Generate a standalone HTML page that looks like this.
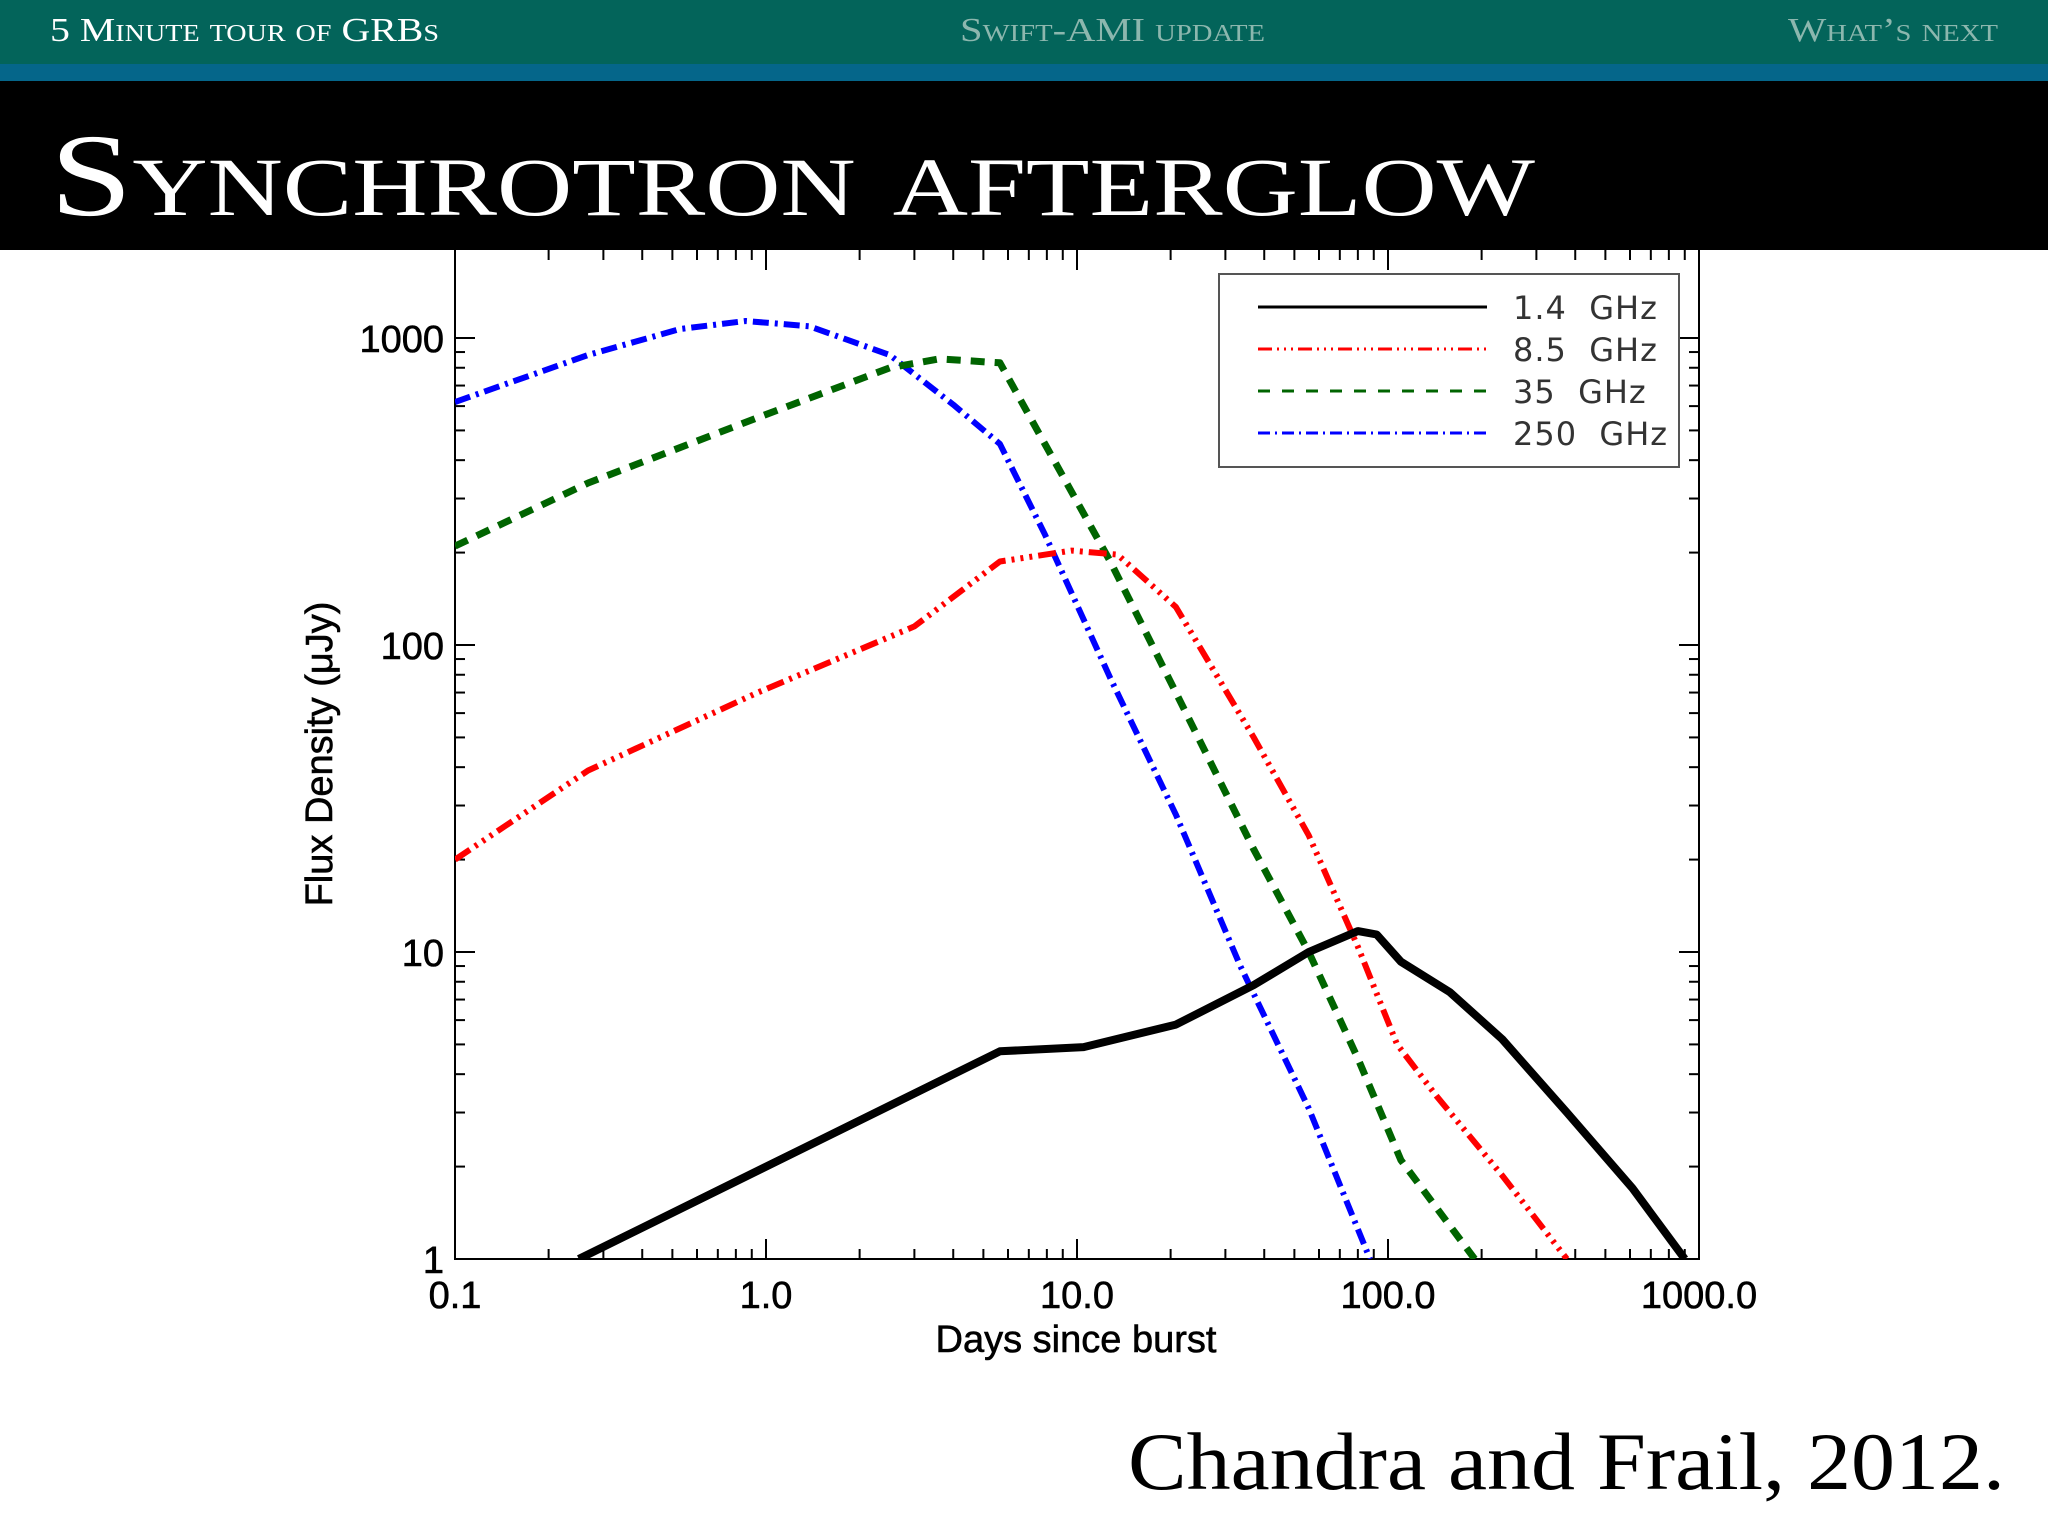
<!DOCTYPE html>
<html><head><meta charset="utf-8"><style>
html,body{margin:0;padding:0;background:#fff;}
svg{display:block;}
</style></head><body>
<svg id="chart" width="2048" height="1536" viewBox="0 0 2048 1536" xmlns="http://www.w3.org/2000/svg">
<g id="plot"></g>
<rect x="0" y="0" width="2048" height="64" fill="#03645a"/>
<rect x="0" y="64" width="2048" height="17" fill="#05668a"/>
<rect x="0" y="81" width="2048" height="169" fill="#000"/>
<text x="50" y="41" font-family="Liberation Serif, serif" font-size="34" fill="#fff" style="font-variant:small-caps" textLength="389" lengthAdjust="spacingAndGlyphs">5 Minute tour of GRBs</text>
<text x="960" y="41" font-family="Liberation Serif, serif" font-size="34" fill="#8cb7ae" style="font-variant:small-caps" textLength="305" lengthAdjust="spacingAndGlyphs">Swift-AMI update</text>
<text x="1788" y="41" font-family="Liberation Serif, serif" font-size="34" fill="#8cb7ae" style="font-variant:small-caps" textLength="210" lengthAdjust="spacingAndGlyphs">What’s next</text>
<text x="50" y="215" font-family="Liberation Serif, serif" font-size="118" fill="#fff" style="font-variant:small-caps" textLength="1485" lengthAdjust="spacingAndGlyphs">Synchrotron afterglow</text>
<text x="1128" y="1489" font-family="Liberation Serif, serif" font-size="82" fill="#000" textLength="877" lengthAdjust="spacingAndGlyphs">Chandra and Frail, 2012.</text>
</svg>
<script>
const xTickValues=[0.1,1,10,100,1000];
const xTickLabels=["0.1","1.0","10.0","100.0","1000.0"];
const yTickValues=[1,10,100,1000];
const yTickLabels=["1","10","100","1000"];
const seriesNames=["1.4 GHz","8.5 GHz","35 GHz","250 GHz"];
const x14=[0.25,5.65,10.5,20.8,37,55.6,80,92,110,158,233,376,611,900];
const y14=[1,4.75,4.9,5.8,7.8,10,11.7,11.4,9.3,7.4,5.2,3.0,1.7,1];
const x85=[0.1,0.268,0.94,3.0,5.65,9.6,13.5,20.8,37,55.6,80,107,143,233,376];
const y85=[20,39,70,115,187,203,197,133,50,24,10.4,5,3.4,1.87,1];
const x35=[0.1,0.268,0.94,2.5,3.6,5.65,7.9,12.8,20.8,37,55.6,80,110,190];
const y35=[210,337,550,800,855,830,450,187,70,21.6,10,4.5,2.1,1];
const x250=[0.1,0.268,0.53,0.86,1.38,2.5,4.0,5.65,7.9,12.8,20.8,33.5,55.6,87.5];
const y250=[619,880,1070,1136,1092,880,607,452,228,78,28,9.0,3.1,1];

const NS="http://www.w3.org/2000/svg";
const L=455,R=1699,T=250,B=1259;
const XMIN=-1,XMAX=3, Y1PX=1259, YDEC=307;
function sx(v){return L+(Math.log10(v)-XMIN)/(XMAX-XMIN)*(R-L);}
function sy(v){return Y1PX-Math.log10(v)*YDEC;}
const g=document.getElementById('plot');
function el(t,a){const e=document.createElementNS(NS,t);for(const k in a)e.setAttribute(k,a[k]);g.appendChild(e);return e;}
const defs=document.createElementNS(NS,'defs');g.appendChild(defs);
const cp=document.createElementNS(NS,'clipPath');cp.setAttribute('id','clip');defs.appendChild(cp);
const cr=document.createElementNS(NS,'rect');cr.setAttribute('x',L);cr.setAttribute('y',T-10);cr.setAttribute('width',R-L);cr.setAttribute('height',B-T+10);cp.appendChild(cr);

const fr=el('rect',{x:L,y:T-30,width:R-L,height:B-T+30,fill:'none',stroke:'#000','stroke-width':2});


for(let d=-1;d<3;d++){for(let m=1;m<10;m++){const v=m*Math.pow(10,d);const x=sx(v);const len=m===1?20:10;
 const t1=el('line',{x1:x,x2:x,y1:B,y2:B-len,stroke:'#000','stroke-width':2});
 
 
 const t2=el('line',{x1:x,x2:x,y1:T,y2:T+len,stroke:'#000','stroke-width':2});
 
 }}
for(let d=0;d<3;d++){for(let m=1;m<10;m++){const v=m*Math.pow(10,d);const y=sy(v);const len=m===1?20:10;
 const t1=el('line',{x1:L,x2:L+len,y1:y,y2:y,stroke:'#000','stroke-width':2});
 
 
 const t2=el('line',{x1:R,x2:R-len,y1:y,y2:y,stroke:'#000','stroke-width':2});
 
 }}
{const y=sy(1000);const t=el('line',{x1:L,x2:L+20,y1:y,y2:y,stroke:'#000','stroke-width':2});
const t2=el('line',{x1:R,x2:R-20,y1:y,y2:y,stroke:'#000','stroke-width':2});}
xTickValues.forEach((v,i)=>{const t=el('text',{x:sx(v),y:1308,'text-anchor':'middle','font-family':'Liberation Sans, sans-serif','font-size':38,fill:'#000',stroke:'#000','stroke-width':0.6});t.textContent=xTickLabels[i];
 
 });
yTickValues.forEach((v,i)=>{const t=el('text',{x:444,y:sy(v)+14,'text-anchor':'end','font-family':'Liberation Sans, sans-serif','font-size':38,fill:'#000',stroke:'#000','stroke-width':0.6});t.textContent=yTickLabels[i];
 
 });
const xt=el('text',{x:1076,y:1352,'text-anchor':'middle','font-family':'Liberation Sans, sans-serif','font-size':38,fill:'#000',stroke:'#000','stroke-width':0.6});xt.textContent='Days since burst';


const yt=el('text',{x:0,y:0,'text-anchor':'middle','font-family':'Liberation Sans, sans-serif','font-size':38,fill:'#000',stroke:'#000','stroke-width':0.6,transform:'translate(332,754) rotate(-90)'});yt.textContent='Flux Density (μJy)';



const styles=[{c:'#000',d:'',w:8},{c:'#f00',d:'18 6 3 6 3 6 3 6',w:6},{c:'#006400',d:'14 10',w:7},{c:'#0000ff',d:'16 6 3 6',w:6}];
const xs=[x14,x85,x35,x250], ys=[y14,y85,y35,y250];
const names=['series-1-4ghz','series-8-5ghz','series-35ghz','series-250ghz'];
for(let s=3;s>=0;s--){
 const d=xs[s].map((v,i)=>(i?'L':'M')+sx(v).toFixed(1)+','+sy(ys[s][i]).toFixed(1)).join(' ');
 const p=el('path',{d:d,fill:'none',stroke:styles[s].c,'stroke-width':styles[s].w,'stroke-dasharray':styles[s].d,'stroke-linejoin':'round','clip-path':'url(#clip)'});
 
 
}
const lg=el('rect',{x:1219,y:274,width:460,height:193,fill:'#fff',stroke:'#555','stroke-width':2});


const rowsY=[307,349,391,433];
seriesNames.forEach((n,i)=>{
 const ln=el('line',{x1:1258,x2:1487,y1:rowsY[i],y2:rowsY[i],stroke:styles[i].c,'stroke-width':3,'stroke-dasharray':i===0?'':(i===1?'14 5 2 5 2 5 2 5':(i===2?'12 12':'12 5 2 5'))});
 
 
 const t=el('text',{x:1513,y:rowsY[i]+12,'font-family':'DejaVu Sans, sans-serif','font-size':32,fill:'#333','letter-spacing':'1'});t.textContent=n.replace(' ','\u00a0\u00a0');
 
 
});
</script>
</body></html>
